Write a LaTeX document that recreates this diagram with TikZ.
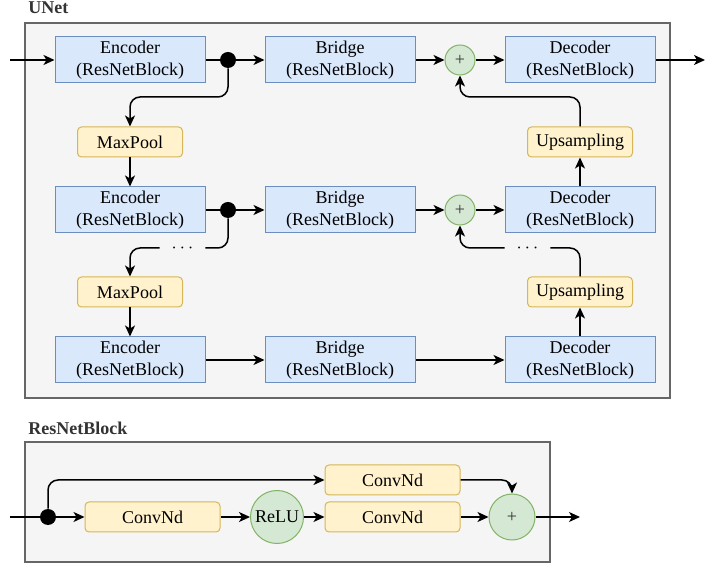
\documentclass[tikz,border=0pt]{standalone}
\usepackage{fontspec}
\setmainfont{Liberation Serif}
\usetikzlibrary{arrows.meta}

\definecolor{blockfill}{HTML}{DAE8FC}
\definecolor{blockdraw}{HTML}{6C8EBF}
\definecolor{poolfill}{HTML}{FFF2CC}
\definecolor{pooldraw}{HTML}{D6B656}
\definecolor{opfill}{HTML}{D5E8D4}
\definecolor{opdraw}{HTML}{82B366}
\definecolor{boxfill}{HTML}{F5F5F5}
\definecolor{boxdraw}{HTML}{666666}
\definecolor{titlegray}{HTML}{333333}

\tikzset{
    block/.style={draw=blockdraw, fill=blockfill, line width=0.5pt, minimum width=75pt, minimum height=23pt, inner sep=0pt, align=center},
    pool/.style={draw=pooldraw, fill=poolfill, rounded corners=2pt, line width=0.5pt, minimum width=52.5pt, minimum height=15pt, inner sep=0pt},
    opnode/.style={circle, draw=opdraw, fill=opfill, line width=0.5pt, inner sep=0pt},
    joint/.style={circle, fill=black, minimum size=8pt, inner sep=0pt},
    container/.style={draw=boxdraw, fill=boxfill, line width=0.6pt},
    title/.style={anchor=west, font=\fontsize{9}{11}\selectfont\bfseries, text=titlegray, inner sep=0pt},
    link/.style={line width=0.75pt, rounded corners=5pt},
    arr/.style={link, -{Stealth[length=5.5pt,width=5pt,inset=1.5pt]}},
    dots/.style={inner sep=0pt, minimum width=22.5pt}
}

\begin{document}
\begin{tikzpicture}[x=0.5pt, y=-0.5pt, font=\fontsize{9}{11}\selectfont]
    \useasboundingbox (0,0) rectangle (706,565);

    % UNet frame
    \node[title] (unettitle) at (28,8) {UNet};
    \draw[container] (25,23) rectangle (670,398);

    % first level
    \node[block] (enc1) at (130,60) {Encoder\\(ResNetBlock)};
    \node[joint] (dot1) at (228,60) {};
    \node[block] (br1) at (340,60) {Bridge\\(ResNetBlock)};
    \node[opnode, minimum size=15pt, text=titlegray] (add1) at (460,60) {+};
    \node[block] (dec1) at (580,60) {Decoder\\(ResNetBlock)};
    \node[pool] (mp1) at (130,142) {MaxPool};
    \node[pool] (up1) at (580,142) {Upsampling};

    % second level
    \node[block] (enc2) at (130,210) {Encoder\\(ResNetBlock)};
    \node[joint] (dot2) at (228,210) {};
    \node[block] (br2) at (340,210) {Bridge\\(ResNetBlock)};
    \node[opnode, minimum size=15pt, text=titlegray] (add2) at (460,210) {+};
    \node[block] (dec2) at (580,210) {Decoder\\(ResNetBlock)};
    \node[dots] (dotsL) at (182.5,248) {$\cdots$};
    \node[dots] (dotsR) at (527.5,248) {$\cdots$};
    \node[pool] (mp2) at (130,292) {MaxPool};
    \node[pool] (up2) at (580,292) {Upsampling};

    % bottom level
    \node[block] (enc3) at (130,360) {Encoder\\(ResNetBlock)};
    \node[block] (br3) at (340,360) {Bridge\\(ResNetBlock)};
    \node[block] (dec3) at (580,360) {Decoder\\(ResNetBlock)};

    \coordinate (in) at (10,60);
    \coordinate (out) at (705,60);

    % level 1 links
    \draw[arr] (in) -- (enc1);
    \draw[link] (enc1) -- (dot1);
    \draw[arr] (dot1) -- (br1);
    \draw[arr] (br1) -- (add1);
    \draw[arr] (add1) -- (dec1);
    \draw[arr] (dec1) -- (out);
    \draw[arr] (dot1) -- ++(0,37) -| (mp1);
    \draw[arr] (up1) -- ++(0,-45) -| (add1);
    \draw[arr] (mp1) -- (enc2);
    \draw[arr] (dec2) -- (up1);

    % level 2 links
    \draw[link] (enc2) -- (dot2);
    \draw[arr] (dot2) -- (br2);
    \draw[arr] (br2) -- (add2);
    \draw[arr] (add2) -- (dec2);
    \draw[link] (dot2) |- (dotsL.east);
    \draw[arr] (dotsL.west) -| (mp2);
    \draw[link] (up2) |- (dotsR.east);
    \draw[arr] (dotsR.west) -| (add2);
    \draw[arr] (mp2) -- (enc3);
    \draw[arr] (dec3) -- (up2);

    % level 3 links
    \draw[arr] (enc3) -- (br3);
    \draw[arr] (br3) -- (dec3);

    % ResNetBlock frame
    \node[title] (restitle) at (28,428) {ResNetBlock};
    \draw[container] (25,442) rectangle (550,562);

    \coordinate (rin) at (10,517);
    \node[joint] (rdot) at (48,517) {};
    \node[pool, minimum width=67.5pt] (conv1) at (152.5,517) {ConvNd};
    \node[opnode, minimum size=26.5pt] (relu) at (277,517) {ReLU};
    \node[pool, minimum width=67.5pt] (conv2) at (392.5,480) {ConvNd};
    \node[pool, minimum width=67.5pt] (conv3) at (392.5,517) {ConvNd};
    \node[opnode, minimum size=23pt, text=titlegray] (radd) at (512,517) {+};
    \coordinate (rout) at (580,517);

    % block links
    \draw[link] (rin) -- (rdot);
    \draw[arr] (rdot) -- (conv1);
    \draw[arr] (conv1) -- (relu);
    \draw[arr] (relu) -- (conv3);
    \draw[arr] (conv3) -- (radd);
    \draw[arr] (radd) -- (rout);
    \draw[arr] (rdot) |- (conv2);
    \draw[arr] (conv2) -| (radd);
\end{tikzpicture}
\end{document}
